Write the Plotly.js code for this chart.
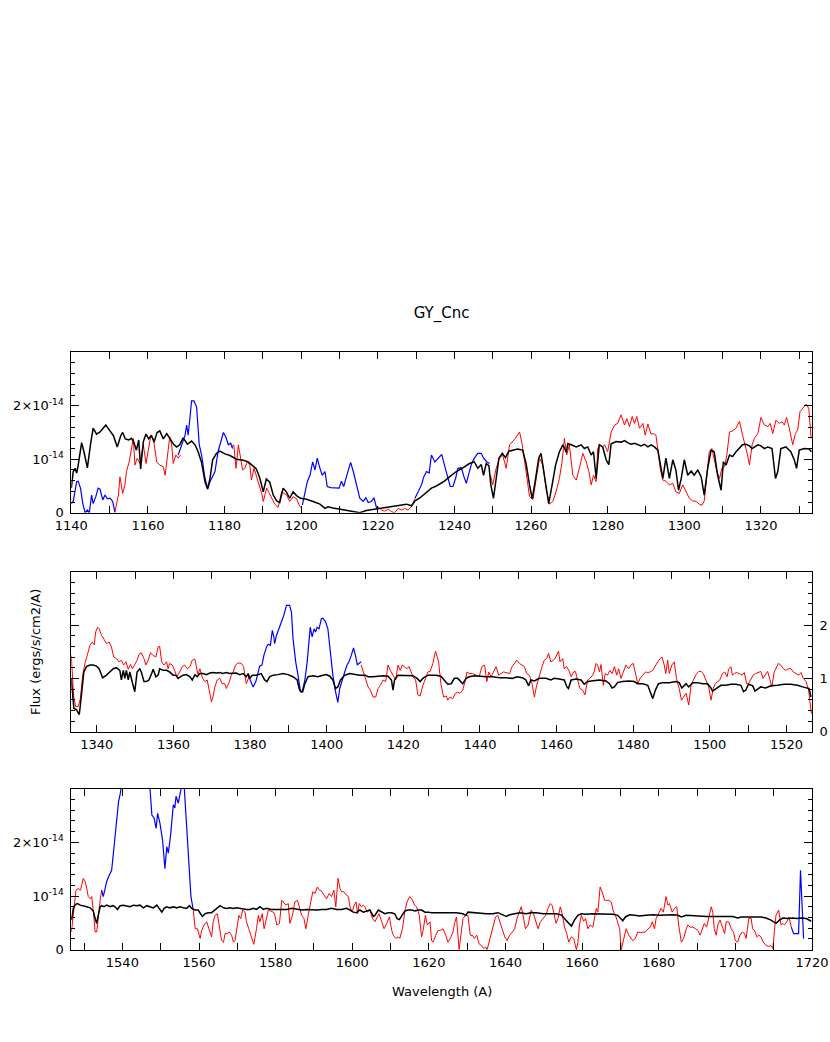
<!DOCTYPE html>
<html><head><meta charset="utf-8">
<script src="https://cdn.plot.ly/plotly-3.0.1.min.js"></script>
<style>html,body{margin:0;padding:0;background:#fff}</style>
</head><body><div id="chart" style="width:830px;height:1042px"></div>
<script>
// Flux values are in units of 1e-14 ergs/s/cm2/A
// ---------- Panel 1 (1140-1333 A) ----------
const p1BlackW = [1140.0,1140.5,1141.0,1141.4,1141.8,1142.7,1143.3,1144.2,1145.0,1145.7,1146.6,1147.5,1148.3,1149.0,1150.1,1151.0,1152.0,1152.9,1153.4,1154.1,1155.0,1155.7,1156.3,1157.0,1157.6,1158.1,1158.8,1159.5,1160.2,1160.9,1161.6,1162.4,1163.1,1164.0,1164.9,1165.7,1166.6,1167.5,1168.3,1169.2,1170.3,1171.4,1172.3,1173.1,1174.0,1174.9,1175.6,1176.2,1176.9,1177.9,1178.8,1180.1,1181.4,1183.1,1184.9,1186.2,1187.5,1188.3,1189.2,1190.1,1190.9,1191.8,1192.7,1193.6,1194.4,1195.3,1196.2,1197.0,1197.9,1198.8,1199.8,1201.4,1203.1,1204.9,1206.2,1207.0,1208.3,1210.1,1211.8,1213.6,1215.3,1217.0,1218.8,1220.5,1222.3,1224.0,1225.7,1227.5,1228.8,1229.7,1230.9,1231.8,1232.7,1234.0,1235.3,1236.1,1237.4,1238.7,1240.5,1242.2,1243.9,1245.2,1246.1,1247.0,1247.6,1248.3,1249.0,1249.5,1250.2,1250.9,1251.6,1252.5,1253.3,1254.2,1255.2,1256.5,1257.8,1258.7,1259.6,1260.3,1261.2,1262.0,1262.6,1263.5,1264.6,1265.5,1266.4,1267.4,1268.3,1269.2,1269.6,1270.5,1271.8,1273.1,1273.9,1274.8,1275.7,1276.3,1277.0,1277.8,1278.7,1279.6,1280.3,1280.9,1282.2,1283.5,1284.4,1285.2,1286.1,1287.0,1287.8,1288.7,1289.6,1290.5,1291.3,1292.2,1293.1,1293.8,1294.4,1295.2,1296.1,1297.0,1297.8,1298.5,1299.2,1300.0,1300.9,1301.8,1302.6,1303.5,1304.4,1305.2,1306.1,1307.0,1307.8,1308.7,1309.6,1310.2,1310.9,1311.8,1312.6,1313.5,1314.4,1315.2,1316.1,1317.0,1317.7,1318.3,1319.2,1320.0,1320.9,1321.8,1322.9,1323.8,1324.4,1325.2,1326.5,1327.8,1328.7,1329.3,1330.0,1331.3,1332.6,1333.2];
const p1BlackF = [0.46,0.77,0.83,0.74,0.89,1.31,1.14,0.84,1.27,1.58,1.47,1.51,1.58,1.64,1.53,1.44,1.23,1.44,1.50,1.38,1.36,1.39,1.32,1.17,1.36,0.82,1.33,1.47,1.38,1.45,1.32,1.50,1.53,1.38,1.48,1.40,1.29,1.23,1.27,1.40,1.28,1.34,1.27,1.14,0.94,0.58,0.44,0.64,0.99,1.11,1.15,1.10,1.07,1.00,0.98,0.95,0.88,0.82,0.65,0.39,0.63,0.57,0.33,0.22,0.19,0.46,0.38,0.27,0.39,0.32,0.27,0.25,0.21,0.16,0.08,0.11,0.09,0.07,0.05,0.03,0.00,0.04,0.06,0.08,0.09,0.11,0.14,0.16,0.13,0.22,0.27,0.33,0.38,0.46,0.50,0.53,0.59,0.67,0.77,0.84,0.92,0.95,0.83,0.90,0.70,0.92,0.88,0.52,0.27,0.64,1.02,1.11,1.03,1.15,1.17,1.19,1.17,0.92,0.52,0.26,0.64,1.02,1.11,0.70,0.17,0.52,0.89,1.14,1.27,1.13,1.29,1.27,1.23,1.27,1.20,1.23,1.08,1.14,0.64,1.27,1.23,0.99,0.90,1.29,1.33,1.32,1.35,1.31,1.28,1.30,1.27,1.25,1.28,1.23,1.27,1.23,1.17,0.89,0.64,1.02,0.64,0.99,0.80,0.42,0.64,0.99,0.70,0.78,0.70,0.80,0.67,0.33,0.83,1.17,1.14,0.70,0.42,0.95,0.89,1.08,1.05,1.14,1.20,1.27,1.28,1.25,1.20,1.23,1.27,1.25,1.20,1.23,1.20,0.64,0.77,1.20,1.23,1.14,0.99,0.83,1.17,1.20,1.19,1.14];

const p1RedW1 = [1151.4,1152.3,1152.7,1153.4,1154.0,1154.4,1155.1,1155.7,1156.2,1156.6,1157.2,1157.9,1158.8,1159.5,1160.1,1160.7,1161.4,1162.3,1163.1,1164.0,1164.5,1165.0,1165.7,1166.2,1166.6,1167.3,1167.9,1168.5];
const p1RedF1 = [0.02,0.33,0.67,0.36,0.52,0.77,0.95,1.20,1.39,0.89,1.02,0.92,1.27,0.92,1.20,1.42,1.39,0.95,0.89,0.86,0.70,1.02,1.42,1.27,0.92,1.08,1.02,1.08];
const p1RedW2 = [1181.8,1182.4,1183.0,1183.6,1184.2,1184.7,1185.3,1185.9,1186.6,1187.0,1187.7,1188.3,1189.0,1189.7,1190.1,1191.0,1191.7,1192.3,1193.1,1194.0,1194.9,1195.5,1196.2,1197.0,1197.9,1198.8,1199.5,1200.1];
const p1RedF2 = [1.23,1.27,0.83,1.27,1.02,0.80,0.83,0.95,0.89,0.61,0.83,0.70,0.52,0.36,0.21,0.46,0.36,0.27,0.16,0.10,0.39,0.36,0.33,0.21,0.30,0.26,0.14,0.08];
const p1RedW3 = [1219.7,1220.1,1221.0,1221.8,1222.7,1223.6,1224.4,1225.3,1226.2,1227.0,1227.9,1228.8,1229.7];
const p1RedF3 = [0.08,0.11,0.05,0.03,0.07,0.02,0.00,0.08,0.05,0.08,0.05,0.11,0.26];
const p1RedW4 = [1249.4,1250.0,1250.9,1251.8,1252.6,1253.5,1254.4,1255.1,1255.9,1257.0,1257.7,1258.7,1259.6,1260.5,1261.3,1262.2,1263.1,1263.9,1264.8,1265.7,1266.5,1267.4,1268.1,1268.7,1269.3,1270.0,1270.9,1271.8,1272.6,1273.5,1274.4,1275.1,1275.7,1276.3,1277.0,1277.4,1278.0,1278.5,1279.2,1280.0,1280.9,1281.8,1282.6,1283.5,1284.4,1285.0,1285.7,1286.4,1287.0,1287.6,1288.3,1289.2,1289.8,1290.5,1291.3,1291.9,1292.6,1293.1,1293.7,1294.4,1295.2,1296.1,1297.0,1297.8,1298.7,1299.6,1300.5,1301.3,1302.2,1303.1,1303.9,1304.6,1305.2,1305.8,1306.5,1307.2,1307.8,1308.5,1309.2,1309.8,1310.5,1311.1,1311.8,1312.6,1313.5,1314.4,1315.2,1315.9,1316.5,1317.0,1317.7,1318.3,1319.2,1320.0,1320.9,1321.8,1322.4,1323.1,1323.9,1324.8,1325.5,1326.1,1326.7,1327.4,1328.3,1329.0,1329.6,1330.2,1330.9,1331.8,1332.5,1333.1];
const p1RedF4 = [0.70,0.52,0.83,1.02,1.08,0.83,1.27,1.33,1.39,1.51,1.27,0.77,0.30,0.25,0.64,1.02,0.89,0.46,0.16,0.21,0.39,0.64,0.95,1.39,1.08,1.27,0.70,0.61,0.83,1.11,0.95,0.77,0.52,0.70,0.58,1.20,1.27,1.23,1.27,1.14,1.51,1.64,1.67,1.83,1.64,1.76,1.61,1.80,1.67,1.80,1.58,1.67,1.45,1.66,1.47,1.48,1.45,1.20,0.83,0.61,0.59,0.52,0.55,0.39,0.36,0.52,0.39,0.27,0.22,0.21,0.16,0.14,0.22,0.64,1.14,1.20,1.02,0.77,0.64,0.83,0.86,1.08,1.51,1.53,1.58,1.71,1.45,1.27,1.08,0.89,1.27,1.39,1.48,1.78,1.64,1.61,1.67,1.48,1.73,1.67,1.70,1.64,1.78,1.58,1.27,1.48,1.55,1.89,1.95,2.03,1.95,1.39];

const p1BlueW1 = [1140.0,1140.5,1141.4,1141.8,1142.4,1143.0,1143.6,1144.2,1144.7,1145.3,1145.7,1146.4,1147.0,1147.5,1148.2,1148.8,1149.4,1150.1,1150.8,1151.1,1151.4];
const p1BlueF1 = [0.17,0.21,0.58,0.59,0.46,0.17,0.00,0.05,0.00,0.33,0.17,0.30,0.46,0.44,0.24,0.33,0.26,0.27,0.21,0.08,0.00];
const p1BlueW2 = [1167.9,1168.8,1169.7,1170.1,1170.5,1171.0,1171.4,1172.0,1172.7,1173.4,1174.0,1174.9,1175.6,1176.2,1176.9,1177.5,1178.3,1179.0,1179.7,1180.3,1181.0,1181.6,1182.1];
const p1BlueF2 = [1.08,1.27,1.45,1.64,1.45,1.80,2.09,2.09,1.98,1.27,1.08,0.64,0.46,0.58,0.67,0.77,1.14,1.33,1.50,1.42,1.27,1.30,1.20];
const p1BlueW3 = [1200.3,1201.0,1201.6,1202.3,1203.0,1203.6,1204.2,1204.9,1205.5,1206.2,1206.8,1207.7,1208.8,1209.9,1210.5,1211.1,1211.8,1212.9,1213.6,1214.4,1215.3,1216.2,1216.9,1217.5,1218.3,1219.0,1219.7];
const p1BlueF3 = [0.14,0.39,0.58,0.70,0.95,0.80,1.02,0.83,0.70,0.77,0.49,0.47,0.46,0.46,0.59,0.49,0.67,0.94,0.77,0.52,0.27,0.21,0.28,0.19,0.21,0.28,0.08];
const p1BlueW4 = [1229.7,1230.5,1231.4,1232.0,1232.7,1233.4,1234.0,1234.9,1235.7,1236.7,1237.4,1238.3,1238.9,1239.6,1240.3,1240.9,1241.8,1242.5,1243.1,1243.8,1244.4,1245.2,1246.1,1247.0,1247.6,1248.5,1249.2];
const p1BlueF4 = [0.27,0.39,0.52,0.67,0.77,0.74,1.08,0.95,1.02,1.09,0.89,0.64,0.49,0.49,0.64,0.83,0.84,0.67,0.55,0.74,0.90,1.02,1.11,1.11,1.02,0.95,0.92];

// ---------- Panel 2 (1333-1527 A) ----------
const p2BlackW = [1333.3,1333.6,1334.0,1334.7,1335.4,1335.7,1336.3,1336.6,1337.3,1338.2,1339.0,1339.9,1340.6,1341.5,1342.5,1343.4,1344.3,1345.1,1346.0,1346.4,1346.9,1347.3,1347.7,1348.2,1348.6,1349.1,1349.9,1350.5,1351.2,1351.6,1352.3,1352.9,1353.6,1354.3,1354.7,1355.4,1356.0,1356.4,1357.3,1358.2,1359.0,1359.9,1360.6,1361.2,1361.8,1362.5,1363.4,1364.3,1364.9,1365.6,1366.2,1366.9,1367.7,1368.6,1369.5,1370.3,1371.2,1372.1,1372.9,1373.8,1374.7,1375.6,1376.4,1377.3,1378.2,1379.0,1379.5,1379.9,1380.6,1381.6,1382.9,1383.8,1384.4,1385.1,1386.0,1387.3,1388.6,1389.9,1391.2,1392.3,1392.8,1393.2,1393.7,1394.3,1395.1,1396.4,1397.7,1399.0,1399.9,1400.8,1401.6,1402.3,1402.9,1403.6,1404.7,1406.0,1407.3,1408.6,1410.0,1410.8,1412.1,1413.4,1414.7,1416.0,1416.9,1417.3,1417.7,1418.6,1419.9,1421.2,1422.5,1423.6,1424.4,1425.1,1426.4,1427.7,1428.5,1429.8,1430.7,1431.6,1432.5,1433.3,1434.2,1435.5,1436.4,1437.2,1438.5,1439.8,1441.6,1443.3,1445.1,1446.8,1448.5,1449.6,1451.1,1452.0,1452.7,1453.3,1454.2,1455.5,1457.2,1458.5,1459.4,1460.7,1462.0,1462.7,1463.1,1463.8,1465.1,1466.4,1467.2,1468.1,1469.4,1471.1,1472.9,1473.8,1474.5,1475.1,1475.9,1477.2,1479.0,1480.3,1481.1,1482.5,1483.8,1484.6,1485.1,1485.8,1486.6,1487.7,1489.4,1491.1,1492.0,1492.7,1493.3,1493.8,1494.5,1495.5,1496.8,1498.1,1499.4,1500.3,1500.7,1501.6,1502.9,1504.2,1505.5,1506.8,1508.1,1508.8,1509.4,1510.1,1511.2,1511.8,1512.5,1513.3,1514.6,1515.9,1517.7,1519.4,1521.1,1522.9,1524.2,1525.1,1525.9,1526.4];
const p2BlackF = [1.00,0.81,0.44,0.41,0.32,0.50,0.87,1.12,1.22,1.25,1.25,1.23,1.18,1.01,1.06,1.13,1.18,1.20,1.15,0.97,1.15,1.00,1.15,0.97,1.12,0.97,0.75,1.12,1.18,1.12,0.94,0.94,0.97,1.09,1.17,1.03,1.06,1.18,1.15,1.15,1.12,1.06,1.06,1.00,1.03,1.06,1.07,1.03,0.97,1.07,1.03,1.09,1.09,1.07,1.10,1.11,1.10,1.11,1.09,1.11,1.09,1.09,1.10,1.07,1.09,1.03,1.09,1.00,1.06,1.06,1.09,0.97,0.94,1.03,1.06,1.07,1.09,1.07,1.03,0.97,0.81,0.75,0.75,0.90,1.03,1.05,1.03,1.06,1.07,1.04,0.97,0.81,0.84,0.97,1.06,1.09,1.07,1.06,1.06,1.03,1.03,1.04,1.05,1.04,0.97,0.78,0.97,1.06,1.06,1.06,1.05,1.00,0.94,1.00,1.06,1.06,1.06,1.04,0.97,0.89,0.90,1.00,1.00,0.90,1.00,1.03,1.05,1.04,1.03,1.03,1.01,1.01,1.00,1.03,1.01,0.97,0.86,0.97,0.95,1.00,1.00,0.97,1.00,0.99,0.97,0.84,0.81,0.97,0.99,0.97,0.89,0.94,0.95,0.97,0.95,0.90,0.82,0.84,0.92,0.94,0.95,0.94,0.90,0.90,0.87,0.72,0.62,0.78,0.90,0.92,0.92,0.94,0.92,0.82,0.87,0.90,0.84,0.92,0.92,0.90,0.90,0.82,0.76,0.81,0.87,0.87,0.89,0.89,0.87,0.75,0.78,0.89,0.86,0.76,0.80,0.84,0.82,0.86,0.87,0.89,0.89,0.87,0.84,0.82,0.81,0.65];

const p2RedW1 = [1333.3,1333.6,1334.0,1334.5,1335.1,1335.7,1336.3,1336.9,1337.5,1338.2,1338.8,1339.3,1339.7,1340.2,1340.6,1341.2,1341.9,1342.5,1343.2,1343.8,1344.4,1345.1,1345.8,1346.4,1347.0,1347.6,1348.2,1348.8,1349.3,1349.9,1350.5,1351.0,1351.6,1352.3,1352.8,1353.4,1354.0,1354.7,1355.4,1356.0,1356.4,1356.9,1357.5,1358.2,1358.6,1359.0,1359.7,1360.3,1360.9,1361.6,1362.3,1362.9,1363.6,1364.3,1364.9,1365.6,1366.0,1366.4,1366.9,1367.6,1368.2,1368.8,1369.5,1369.9,1370.3,1370.8,1371.4,1372.1,1372.7,1373.4,1373.8,1374.5,1375.1,1375.6,1376.2,1376.9,1377.7,1378.3,1379.0,1379.5,1379.9];
const p2RedF1 = [1.43,1.06,0.62,0.47,0.47,0.62,1.06,1.28,1.43,1.62,1.68,1.63,1.87,1.96,1.93,1.81,1.73,1.65,1.68,1.59,1.40,1.37,1.31,1.34,1.25,1.31,1.17,1.26,1.18,1.25,1.34,1.45,1.48,1.37,1.25,1.34,1.48,1.43,1.40,1.59,1.60,1.31,1.25,1.31,1.18,1.28,1.25,1.15,1.03,1.12,1.22,1.25,1.18,1.22,1.34,1.36,1.18,1.07,1.18,1.00,0.94,0.97,0.72,0.56,0.65,0.84,0.97,1.00,0.90,0.90,0.81,0.92,1.06,1.12,1.25,1.29,1.28,1.22,0.90,1.00,1.06];
const p2RedW2 = [1409.0,1410.2,1410.8,1411.4,1412.1,1412.8,1413.4,1414.0,1414.7,1415.4,1416.0,1416.6,1417.3,1418.0,1418.6,1419.2,1419.7,1420.3,1420.9,1421.5,1422.1,1422.5,1423.2,1423.8,1424.4,1425.1,1425.8,1426.4,1427.0,1427.7,1428.4,1429.0,1429.2,1429.8,1430.5,1431.2,1431.6,1432.2,1432.9,1433.6,1434.2,1434.8,1435.5,1436.2,1436.6,1437.2,1438.1,1439.0,1439.8,1440.5,1441.2,1441.8,1442.3,1442.9,1443.5,1444.2,1444.9,1445.5,1446.1,1446.8,1447.7,1448.4,1449.0,1449.6,1450.3,1451.0,1451.6,1452.2,1452.9,1453.6,1454.2,1454.8,1455.5,1456.2,1456.8,1457.4,1457.9,1458.5,1459.2,1459.8,1460.5,1460.9,1461.6,1462.0,1462.6,1463.2,1463.8,1464.4,1464.9,1465.5,1466.1,1466.8,1467.4,1468.1,1468.7,1469.4,1469.8,1470.3,1470.7,1471.2,1471.6,1472.2,1472.7,1473.3,1473.9,1474.5,1475.1,1475.7,1476.2,1476.8,1477.4,1478.1,1478.8,1479.4,1480.0,1480.5,1481.2,1481.8,1482.5,1483.2,1483.8,1484.4,1485.1,1485.8,1486.4,1487.0,1487.5,1488.1,1488.5,1489.0,1489.4,1490.1,1490.7,1491.3,1492.0,1492.6,1493.1,1493.8,1494.5,1495.1,1495.7,1496.4,1497.1,1497.7,1498.3,1499.0,1499.7,1500.3,1500.9,1501.4,1502.0,1502.6,1503.3,1503.9,1504.5,1504.9,1505.5,1505.9,1506.4,1507.0,1507.7,1508.4,1509.0,1509.6,1510.1,1510.7,1511.3,1512.0,1512.7,1513.3,1513.9,1514.5,1515.1,1515.7,1516.2,1516.8,1517.4,1517.9,1518.5,1519.2,1519.8,1520.5,1521.2,1521.8,1522.5,1523.2,1523.8,1524.4,1525.1,1525.8,1526.1,1526.5];
const p2RedF2 = [1.25,1.00,0.84,0.78,0.65,0.65,0.81,0.87,0.97,0.94,1.25,1.15,1.06,0.97,1.25,1.15,1.25,1.22,1.18,1.22,1.09,1.03,0.97,0.69,0.67,0.87,1.00,1.12,1.13,1.28,1.51,1.37,1.31,0.90,0.65,0.67,0.59,0.65,0.62,0.72,0.74,0.72,0.78,0.97,1.12,1.09,1.09,1.06,1.03,1.22,1.25,0.94,1.12,1.03,1.12,1.22,1.06,1.09,1.12,1.11,1.09,1.22,1.28,1.34,1.28,1.25,1.22,1.09,1.06,0.90,0.65,0.87,1.06,1.22,1.34,1.37,1.47,1.31,1.34,1.40,1.51,1.31,1.37,1.18,1.22,1.15,1.03,1.12,1.13,0.94,0.81,0.78,0.69,0.97,1.00,1.06,1.12,1.28,1.25,1.12,1.26,0.87,1.09,1.06,1.15,1.09,1.22,1.06,1.18,1.00,1.11,1.25,1.18,1.25,1.28,1.12,0.90,1.00,1.06,1.12,1.11,1.12,1.15,1.25,1.31,1.37,1.40,1.25,1.09,1.34,1.09,1.25,1.31,1.00,0.81,0.59,0.65,0.72,0.50,0.87,0.97,1.07,1.13,1.13,1.09,0.97,0.84,0.59,0.81,0.90,0.94,0.97,1.09,1.12,1.03,1.17,1.22,1.06,1.09,1.11,1.09,1.06,1.11,0.90,0.90,0.97,1.06,1.09,1.12,1.13,1.00,1.06,1.13,0.97,0.84,1.12,1.22,1.28,1.25,1.18,1.15,1.18,1.18,1.12,1.09,1.06,1.11,1.00,0.94,0.78,0.59,0.34];

const p2BlueW = [1379.5,1380.1,1380.8,1381.5,1382.1,1382.5,1383.1,1383.6,1384.3,1384.7,1385.3,1385.8,1386.2,1386.4,1386.9,1387.6,1388.2,1388.8,1389.5,1390.3,1390.8,1391.2,1391.9,1392.5,1393.1,1393.6,1394.3,1394.9,1395.4,1395.7,1396.2,1396.7,1397.1,1397.5,1398.0,1398.6,1399.0,1399.7,1400.3,1400.8,1401.2,1401.6,1402.3,1402.9,1403.4,1404.1,1404.7,1405.3,1405.8,1406.4,1407.0,1407.6,1408.0,1408.4,1409.0];
const p2BlueF = [1.06,0.97,0.84,0.94,1.12,1.23,1.25,1.43,1.59,1.64,1.62,1.90,1.78,1.65,1.81,1.93,2.06,2.18,2.37,2.37,2.24,1.75,1.31,1.06,0.78,0.74,0.97,1.31,1.68,1.96,1.78,1.93,1.87,1.96,1.93,2.12,2.13,2.06,1.93,1.62,1.31,1.06,0.75,0.55,0.81,1.00,1.12,1.25,1.31,1.43,1.57,1.40,1.25,1.28,1.31];

// ---------- Panel 3 (1527-1720 A) ----------
const p3BlackW = [1526.7,1527.2,1527.7,1528.3,1529.0,1529.8,1530.7,1531.6,1532.4,1532.9,1533.3,1533.7,1534.2,1534.6,1535.2,1535.9,1536.8,1537.5,1538.1,1538.7,1539.4,1540.3,1541.1,1542.0,1542.9,1543.7,1544.6,1545.5,1546.4,1547.2,1548.1,1549.0,1549.7,1550.3,1550.9,1551.6,1552.4,1553.3,1554.2,1555.0,1555.9,1556.8,1557.5,1558.1,1558.9,1559.8,1560.4,1560.9,1561.6,1562.4,1563.3,1564.2,1564.8,1565.5,1566.4,1567.2,1568.1,1568.9,1569.8,1570.7,1571.6,1572.4,1573.3,1574.2,1575.0,1575.9,1576.8,1577.6,1578.9,1580.3,1581.6,1582.9,1584.2,1585.5,1586.8,1588.1,1589.4,1590.7,1592.0,1593.3,1594.6,1595.9,1597.2,1598.5,1599.4,1600.3,1601.1,1602.0,1602.9,1603.7,1604.6,1605.5,1605.9,1606.8,1607.7,1608.5,1609.4,1610.3,1611.1,1611.7,1612.3,1612.9,1613.7,1614.6,1615.5,1616.4,1617.2,1618.1,1619.0,1619.8,1620.7,1623.7,1625.4,1627.2,1628.9,1629.6,1630.2,1631.5,1633.2,1635.0,1636.7,1638.0,1639.3,1640.2,1641.1,1642.4,1643.7,1645.4,1646.7,1648.0,1649.8,1651.5,1653.2,1654.5,1655.4,1656.3,1657.2,1658.0,1658.9,1659.8,1661.1,1662.8,1664.5,1666.3,1668.0,1669.3,1670.2,1670.6,1671.3,1672.4,1673.7,1675.0,1676.7,1678.5,1680.2,1681.9,1683.7,1685.0,1685.9,1687.2,1688.9,1690.6,1692.4,1694.1,1695.9,1697.6,1699.3,1700.6,1701.5,1702.8,1704.1,1705.4,1706.7,1708.0,1709.3,1710.6,1711.5,1712.4,1713.7,1715.0,1715.9,1717.2,1718.5,1719.8];
const p3BlackF = [0.55,0.77,0.84,0.86,0.83,0.82,0.80,0.78,0.72,0.58,0.49,0.64,0.80,0.82,0.80,0.83,0.80,0.82,0.80,0.75,0.82,0.83,0.82,0.80,0.83,0.82,0.83,0.78,0.82,0.80,0.78,0.83,0.77,0.70,0.77,0.80,0.78,0.80,0.78,0.80,0.78,0.77,0.82,0.77,0.74,0.74,0.67,0.62,0.67,0.69,0.69,0.74,0.78,0.82,0.78,0.77,0.78,0.77,0.78,0.77,0.75,0.75,0.75,0.77,0.75,0.80,0.75,0.77,0.75,0.75,0.75,0.75,0.77,0.75,0.74,0.75,0.74,0.74,0.75,0.75,0.77,0.75,0.75,0.77,0.74,0.70,0.69,0.74,0.70,0.72,0.74,0.62,0.64,0.74,0.70,0.67,0.69,0.69,0.67,0.58,0.56,0.64,0.72,0.74,0.74,0.72,0.74,0.74,0.70,0.70,0.69,0.69,0.69,0.69,0.67,0.64,0.70,0.69,0.69,0.67,0.67,0.69,0.65,0.62,0.65,0.67,0.69,0.67,0.69,0.69,0.67,0.67,0.67,0.65,0.58,0.49,0.44,0.55,0.64,0.67,0.66,0.67,0.67,0.67,0.66,0.64,0.57,0.54,0.61,0.65,0.64,0.63,0.64,0.65,0.64,0.65,0.65,0.64,0.61,0.64,0.63,0.62,0.62,0.62,0.62,0.61,0.62,0.59,0.61,0.61,0.61,0.62,0.61,0.59,0.55,0.49,0.55,0.59,0.58,0.59,0.58,0.59,0.58,0.53];

const p3RedW1 = [1526.7,1527.2,1527.9,1528.5,1529.1,1529.8,1530.3,1530.7,1531.1,1531.6,1532.0,1532.4,1532.9,1533.3,1533.7,1534.2,1534.6];
const p3RedF1 = [0.33,0.64,1.11,1.14,1.11,1.33,1.27,1.14,0.99,0.95,0.99,0.74,0.33,0.33,0.64,0.92,1.11];
const p3RedW2 = [1558.5,1559.0,1559.6,1560.3,1560.7,1561.3,1562.0,1562.7,1563.3,1563.7,1564.2,1564.8,1565.3,1565.9,1566.4,1566.8,1567.4,1567.9,1568.5,1569.0,1569.4,1569.8,1570.4,1570.9,1571.4,1572.0,1572.4,1573.0,1573.7,1574.3,1575.0,1575.5,1575.9,1576.5,1577.0,1577.5,1578.1,1578.7,1579.4,1579.8,1580.3,1581.0,1581.6,1582.0,1582.7,1583.3,1583.7,1584.4,1585.0,1585.7,1586.2,1586.8,1587.4,1587.9,1588.5,1589.1,1589.7,1590.3,1590.9,1591.4,1592.0,1592.6,1593.3,1594.0,1594.6,1595.2,1595.7,1596.3,1596.8,1597.2,1597.8,1598.4,1599.0,1599.4,1600.0,1600.5,1601.0,1601.4,1601.8,1602.4,1602.9,1603.3,1603.9,1604.6,1605.3,1605.9,1606.5,1607.0,1607.7,1608.3,1609.0,1609.7,1610.3,1610.7,1611.4,1612.0,1612.4,1613.1,1613.7,1614.3,1615.0,1615.6,1616.3,1616.8,1617.5,1618.1,1618.5,1619.1,1619.6,1620.3,1620.7,1621.1,1621.8,1622.4,1623.0,1623.7,1624.4,1625.0,1625.6,1626.3,1626.7,1627.2,1627.9,1628.5,1628.9,1629.6,1630.2,1630.8,1631.5,1631.9,1632.5,1633.1,1633.7,1634.3,1634.8,1635.2,1635.7,1636.3,1636.9,1637.4,1638.0,1638.5,1639.2,1639.8,1640.4,1641.1,1641.8,1642.4,1643.0,1643.5,1644.1,1644.5,1645.2,1645.9,1646.3,1646.7,1647.3,1647.9,1648.5,1649.1,1649.8,1650.5,1651.1,1651.7,1652.2,1652.8,1653.2,1653.7,1654.3,1654.8,1655.4,1656.0,1656.5,1657.2,1657.8,1658.5,1658.9,1659.3,1659.8,1660.4,1660.9,1661.5,1662.1,1662.8,1663.2,1663.7,1664.1,1664.7,1665.2,1665.9,1666.3,1667.0,1667.6,1668.2,1668.7,1669.3,1669.8,1670.2,1670.6,1671.1,1671.5,1672.2,1672.8,1673.2,1673.9,1674.5,1675.2,1675.9,1676.5,1677.2,1677.8,1678.3,1678.9,1679.3,1680.0,1680.6,1681.2,1681.9,1682.4,1682.8,1683.5,1684.1,1684.7,1685.2,1685.9,1686.5,1687.2,1687.6,1688.2,1688.9,1689.6,1690.2,1690.8,1691.5,1691.9,1692.5,1693.2,1693.7,1694.1,1694.5,1695.0,1695.4,1696.0,1696.7,1697.2,1697.6,1698.3,1698.9,1699.5,1700.0,1700.6,1701.2,1701.8,1702.4,1702.8,1703.5,1704.1,1704.5,1705.0,1705.6,1706.1,1706.7,1707.3,1708.0,1708.7,1709.3,1709.8,1710.2,1710.6,1711.3,1711.9,1712.4,1712.8,1713.4,1714.0,1714.6];
const p3RedF2 = [0.74,0.39,0.39,0.21,0.36,0.46,0.52,0.36,0.24,0.52,0.64,0.67,0.46,0.17,0.14,0.30,0.30,0.33,0.27,0.14,0.17,0.39,0.64,0.58,0.74,0.70,0.52,0.39,0.21,0.10,0.39,0.64,0.52,0.67,0.39,0.55,0.74,0.72,0.70,0.64,0.46,0.49,0.92,0.89,0.83,0.86,0.49,0.64,0.89,0.92,0.80,0.64,0.58,0.39,0.64,0.89,1.08,1.05,1.17,1.11,1.09,1.02,0.95,1.05,0.99,1.11,0.80,1.33,1.14,1.08,1.08,1.02,0.99,0.80,0.70,0.83,0.89,0.67,0.86,0.80,0.83,0.80,0.70,0.74,0.58,0.52,0.61,0.67,0.52,0.39,0.49,0.61,0.36,0.27,0.21,0.24,0.21,0.39,0.70,0.89,0.99,0.94,0.83,0.80,0.64,0.24,0.36,0.64,0.46,0.52,0.17,0.14,0.27,0.36,0.36,0.39,0.27,0.14,0.21,0.33,0.49,0.61,0.00,0.30,0.58,0.64,0.64,0.27,0.26,0.21,0.27,0.11,0.08,0.02,0.05,0.00,0.14,0.27,0.46,0.61,0.64,0.52,0.36,0.24,0.17,0.27,0.33,0.39,0.58,0.67,0.80,0.67,0.39,0.46,0.64,0.74,0.67,0.52,0.39,0.52,0.58,0.64,0.77,0.86,0.82,0.64,0.49,0.58,0.80,0.67,0.42,0.30,0.14,0.24,0.21,0.00,0.14,0.46,0.64,0.53,0.58,0.39,0.46,0.42,0.58,0.77,0.70,1.17,1.08,0.92,0.92,0.92,0.89,0.70,0.64,0.52,0.39,0.00,0.14,0.27,0.39,0.27,0.21,0.17,0.21,0.33,0.32,0.33,0.33,0.39,0.42,0.52,0.39,0.58,0.70,0.77,0.70,0.99,0.83,0.86,0.70,0.77,0.80,0.46,0.14,0.21,0.39,0.46,0.42,0.42,0.39,0.36,0.27,0.39,0.49,0.42,0.64,0.80,0.70,0.39,0.27,0.46,0.55,0.39,0.30,0.52,0.52,0.39,0.33,0.17,0.14,0.27,0.33,0.30,0.21,0.58,0.59,0.39,0.36,0.24,0.27,0.24,0.14,0.08,0.06,0.08,0.02,0.36,0.64,0.74,0.46,0.49,0.46,0.52,0.61,0.42];

const p3BlueW1 = [1534.6,1535.0,1535.5,1535.9,1536.6,1537.2,1537.7,1538.1,1538.5,1539.0,1539.4,1539.8,1541.0,1543.0,1545.0,1546.5,1547.2,1547.7,1548.3,1548.8,1549.2,1549.8,1550.5,1551.1,1551.6,1552.0,1552.6,1553.3,1553.7,1554.0,1554.6,1555.0,1555.5,1556.0,1556.6,1557.0,1557.5,1557.9,1558.5];
const p3BlueF1 = [1.11,0.99,1.14,1.27,1.39,1.48,1.83,2.08,2.45,2.76,2.89,3.07,3.4,3.6,3.5,3.2,3.01,2.51,2.45,2.26,2.54,2.36,2.04,1.51,1.92,1.80,2.14,2.70,2.64,2.86,2.73,2.92,3.07,3.2,2.45,1.89,1.33,0.99,0.74];
const p3BlueW2 = [1714.6,1715.2,1715.9,1716.5,1717.0,1717.8];
const p3BlueF2 = [0.42,0.30,0.30,0.30,1.48,0.21];

// ---------- tick labels ----------
const fluxTickVals = [0, 1, 2];
const fluxTickTextExp = ['0', '10<sup>-14</sup>', '2\u00d710<sup>-14</sup>'];
const fluxTickTextPlain = ['0', '1', '2'];
const xRanges = [[1140, 1333.33], [1333.33, 1526.67], [1526.67, 1720]];

function join(pairs) {
  const x = [], y = [];
  pairs.forEach((p, i) => {
    if (i > 0) { x.push(null); y.push(null); }
    x.push(...p[0]); y.push(...p[1]);
  });
  return {x, y};
}
function tr(d, color, width, xa, ya) {
  return {x: d.x, y: d.y, type: 'scatter', mode: 'lines', xaxis: xa, yaxis: ya,
    line: {color: color, width: width}, connectgaps: false, hoverinfo: 'skip', showlegend: false};
}

const traces = [
  tr(join([[p1RedW1,p1RedF1],[p1RedW2,p1RedF2],[p1RedW3,p1RedF3],[p1RedW4,p1RedF4]]), '#ff0000', 1, 'x', 'y'),
  tr(join([[p1BlueW1,p1BlueF1],[p1BlueW2,p1BlueF2],[p1BlueW3,p1BlueF3],[p1BlueW4,p1BlueF4]]), '#0000ff', 1.2, 'x', 'y'),
  tr(join([[p1BlackW,p1BlackF]]), '#000000', 1.5, 'x', 'y'),
  tr(join([[p2RedW1,p2RedF1],[p2RedW2,p2RedF2]]), '#ff0000', 1, 'x2', 'y2'),
  tr(join([[p2BlueW,p2BlueF]]), '#0000ff', 1.2, 'x2', 'y2'),
  tr(join([[p2BlackW,p2BlackF]]), '#000000', 1.5, 'x2', 'y2'),
  tr(join([[p3RedW1,p3RedF1],[p3RedW2,p3RedF2]]), '#ff0000', 1, 'x3', 'y3'),
  tr(join([[p3BlueW1,p3BlueF1],[p3BlueW2,p3BlueF2]]), '#0000ff', 1.2, 'x3', 'y3'),
  tr(join([[p3BlackW,p3BlackF]]), '#000000', 1.5, 'x3', 'y3')
];

const FONT = {family: 'DejaVu Sans, Arial, sans-serif', size: 13, color: '#000'};
const XDOM = [71.3/830, 812/830];
const YDOMS = [[1-512.7/1042, 1-352.3/1042], [1-731.7/1042, 1-571.7/1042], [1-949.7/1042, 1-788.7/1042]];

function xax(i, anchor) {
  return {domain: XDOM, range: xRanges[i], anchor: anchor, showline: true, linecolor: '#000', linewidth: 1,
    mirror: 'allticks', ticks: 'inside', ticklen: 7, tickwidth: 1, tickcolor: '#000',
    tickmode: 'linear', tick0: 0, dtick: 20, ticklabelstandoff: 1,
    minor: {tickmode: 'linear', tick0: 0, dtick: 10, ticks: 'inside', ticklen: 7, tickwidth: 1, tickcolor: '#000', showgrid: false},
    showgrid: false, zeroline: false, tickfont: FONT, fixedrange: true};
}
function yax(i, anchor, side, text) {
  return {domain: YDOMS[i], range: [0, 3], anchor: anchor, side: side, showline: true, linecolor: '#000', linewidth: 1,
    mirror: 'allticks', ticks: 'inside', ticklen: 8, tickwidth: 1, tickcolor: '#000',
    tickmode: 'array', tickvals: fluxTickVals, ticktext: text, ticklabelstandoff: 4,
    minor: {tickmode: 'linear', tick0: 0, dtick: 0.2, ticks: 'inside', ticklen: 4, tickwidth: 1, tickcolor: '#000', showgrid: false},
    showgrid: false, zeroline: false, tickfont: FONT, fixedrange: true};
}

const layout = {
  width: 830, height: 1042, margin: {l: 0, r: 0, t: 0, b: 0},
  paper_bgcolor: '#fff', plot_bgcolor: '#fff', showlegend: false,
  title: {text: 'GY_Cnc', x: 441.6/830, xanchor: 'center', y: 1-313/1042, yanchor: 'middle',
    font: {family: 'DejaVu Sans, Arial, sans-serif', size: 15, color: '#000'}},
  xaxis: xax(0, 'y'), yaxis: yax(0, 'x', 'left', fluxTickTextExp),
  xaxis2: xax(1, 'y2'), yaxis2: yax(1, 'x2', 'right', fluxTickTextPlain),
  xaxis3: xax(2, 'y3'), yaxis3: yax(2, 'x3', 'left', fluxTickTextExp),
  annotations: [
    {text: 'Wavelength (A)', xref: 'paper', yref: 'paper', x: 441.6/830, y: 1-991/1042,
      xanchor: 'center', yanchor: 'middle', showarrow: false, font: FONT},
    {text: 'Flux (ergs/s/cm2/A)', xref: 'paper', yref: 'paper', x: 35/830, y: 1-652/1042,
      xanchor: 'center', yanchor: 'middle', textangle: -90, showarrow: false, font: FONT}
  ]
};

Plotly.newPlot('chart', traces, layout, {staticPlot: true, displayModeBar: false});
</script>
</body></html>
